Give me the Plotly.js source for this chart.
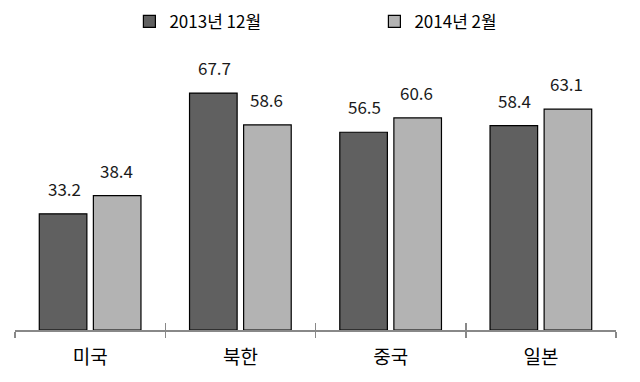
<!DOCTYPE html>
<html><head><meta charset="utf-8">
<script src="https://cdn.plot.ly/plotly-3.0.1.min.js"></script>
<style>body{margin:0}</style></head>
<body><div id="chart" style="width:640px;height:382px"></div>
<script>
const categories = ['미국', '북한', '중국', '일본'];
const seriesNames = ['2013년 12월', '2014년 2월'];
const values2013 = [33.2, 67.7, 56.5, 58.4];
const values2014 = [38.4, 58.6, 60.6, 63.1];
const colors = ['#606060', '#b3b3b3'];
const FONT = '"Noto Sans CJK KR", "Malgun Gothic", sans-serif';

function barTrace(name, vals, color) {
  return {
    type: 'bar', name: name, x: categories, y: vals,
    marker: {color: color, line: {color: '#000', width: 1.2}},
    hoverinfo: 'skip'
  };
}
const data = [
  barTrace(seriesNames[0], values2013, colors[0]),
  barTrace(seriesNames[1], values2014, colors[1]),
  {type: 'bar', x: categories, y: [0,0,0,0], xaxis: 'x2', showlegend: false, hoverinfo: 'skip', marker: {color: 'rgba(0,0,0,0)'}}
];
const annotations = [];
[values2013, values2014].forEach((vals, s) => {
  vals.forEach((v, i) => {
    annotations.push({x: categories[i], y: v, xref: 'x', yref: 'y', text: v.toFixed(1),
      showarrow: false, xanchor: 'center', yanchor: 'bottom', xshift: s === 0 ? -26 : 26, yshift: 11,
      font: {family: FONT, size: 17, color: '#1a1a1a'}});
  });
});
const layout = {
  width: 640, height: 382,
  margin: {l: 15, r: 24, t: 50, b: 52},
  paper_bgcolor: '#fff', plot_bgcolor: '#fff',
  barmode: 'group', bargap: 0.28, bargroupgap: 0.12,
  font: {family: FONT, size: 17, color: '#000'},
  showlegend: true,
  legend: {orientation: 'h', x: 0.598, xanchor: 'center', y: 0.99, yanchor: 'top',
    yref: 'container', entrywidth: 200, font: {family: FONT, size: 17, color: '#000'}},
  annotations: annotations,
  xaxis: {type: 'category', showline: true, linecolor: '#888', linewidth: 1.5,
    ticks: 'outside', tickson: 'boundaries', ticklen: 6, tickcolor: '#888', tickwidth: 1.5,
    ticklabelstandoff: 10,
    tickfont: {family: FONT, size: 19, color: '#000'}, showgrid: false, zeroline: false},
  xaxis2: {type: 'category', overlaying: 'x', matches: 'x', side: 'bottom', anchor: 'y',
    ticks: 'inside', tickson: 'boundaries', ticklen: 7, tickcolor: '#888', tickwidth: 1.5,
    showticklabels: false, showline: false, showgrid: false, zeroline: false},
  yaxis: {range: [0, 80], visible: false, showgrid: false, zeroline: false, fixedrange: true}
};
Plotly.newPlot('chart', data, layout, {staticPlot: true});
</script></body></html>
